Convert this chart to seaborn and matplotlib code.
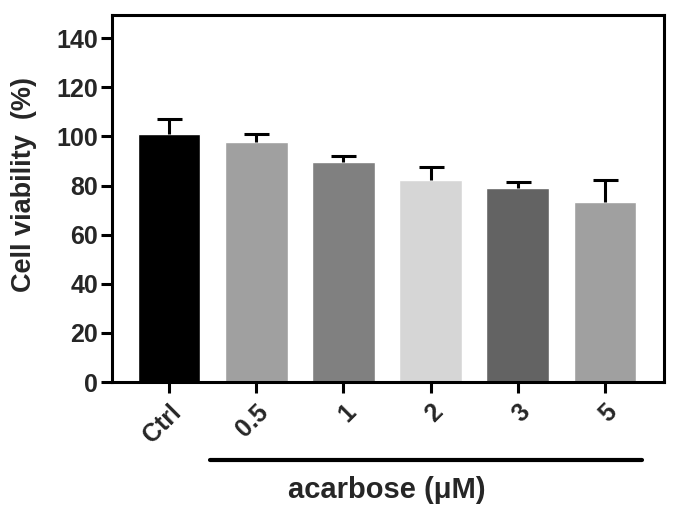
import matplotlib
matplotlib.use("Agg")
import matplotlib.pyplot as plt
import seaborn as sns
import pandas as pd
from matplotlib.lines import Line2D

# values
groups = ['Ctrl', '0.5', '1', '2', '3', '5']
viability = [100.8, 97.7, 89.5, 82.3, 78.9, 73.1]
sd = [6.4, 3.1, 2.5, 5.2, 2.7, 9.3]
bar_colors = ['#000000', '#a0a0a0', '#808080', '#d6d6d6', '#636363', '#a0a0a0']

df = pd.DataFrame({'group': groups, 'viability': viability, 'sd': sd})

sns.set_style("ticks")
plt.rcParams['font.family'] = ['Liberation Sans', 'DejaVu Sans']

fig = plt.figure(figsize=(6.79, 5.18), dpi=100)
ax = fig.add_axes([0.165, 0.2625, 0.813, 0.7085])

sns.barplot(data=df, x='group', y='viability', hue='group', palette=bar_colors,
            legend=False, width=0.72, ax=ax, errorbar=None, saturation=1)

# upper error bars only
eb = ax.errorbar(range(len(groups)), df['viability'], yerr=[[0] * len(sd), df['sd']],
                 fmt='none', ecolor='black', elinewidth=2.2, capsize=9, capthick=2.2)
eb[1][0].set_visible(False)  # hide lower caps

ax.set_xlim(-0.654, 5.677)
ax.set_ylim(0, 149.4)
ax.set_yticks(range(0, 141, 20))
ax.set_xlabel('')
ax.set_ylabel('Cell viability  (%)', fontsize=19.5, fontweight='bold')
ax.yaxis.set_label_coords(-0.136, 0.537)

for s in ax.spines.values():
    s.set_linewidth(2.2)
    s.set_color('black')
ax.tick_params(axis='both', length=8, width=2.2, color='black')
ax.tick_params(axis='y', labelsize=18, pad=2)
ax.tick_params(axis='x', labelsize=18, pad=5)
for lab in ax.get_yticklabels():
    lab.set_fontweight('bold')
for lab in ax.get_xticklabels():
    lab.set_fontweight('bold')
    lab.set_rotation(45)
    lab.set_ha('right')
    lab.set_va('top')
    lab.set_rotation_mode('anchor')

# bracket line under the acarbose groups
fig.add_artist(Line2D([210 / 679, 642 / 679], [1 - 460 / 518, 1 - 460 / 518],
                      color='black', linewidth=3))
fig.text(387 / 679, 1 - 490 / 518, 'acarbose (μM)', ha='center', va='center',
         fontsize=21, fontweight='bold')

fig.savefig('out.png', dpi=100)
